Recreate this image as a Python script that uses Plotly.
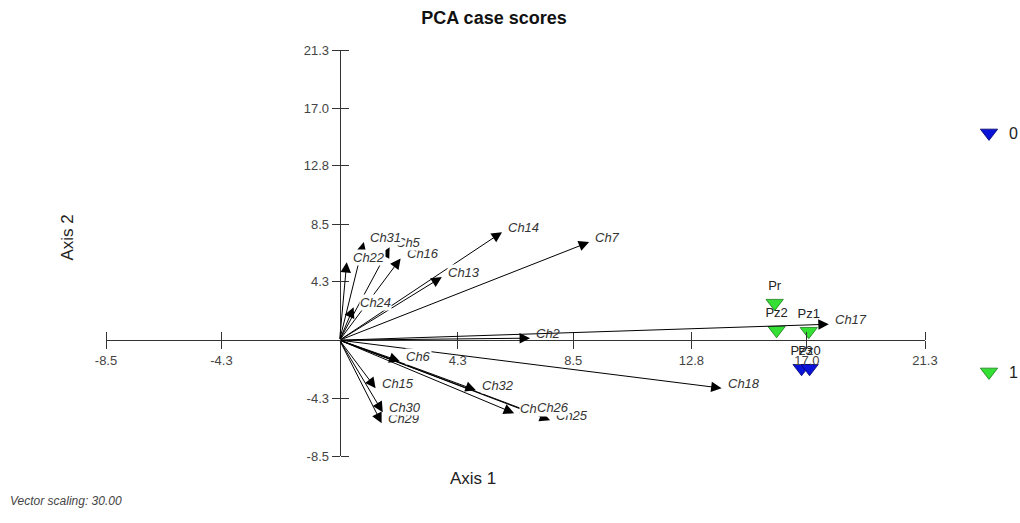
import plotly.graph_objects as go

# ---- data ----
tick_vals = [-8.5, -4.3, 4.3, 8.5, 12.8, 17.0, 21.3]
tick_text = ["-8.5", "-4.3", "4.3", "8.5", "12.8", "17.0", "21.3"]

vec_names = ["Ch24", "Ch22", "Ch16", "Ch13", "Ch14", "Ch7", "Ch2", "Ch17", "Ch6",
             "Ch18", "Ch15", "Ch32", "Ch29", "Ch30", "Ch27", "Ch25", "Ch26", "Ch5", "Ch31"]
vec_x = [0.51, 0.26, 2.22, 3.72, 5.91, 9.08, 6.93, 17.80, 2.19,
         13.90, 1.31, 4.96, 1.53, 1.57, 6.35, 7.66, 6.97, 1.82, 0.88]
vec_y = [2.42, 5.73, 6.00, 4.63, 7.93, 7.20, 0.15, 1.17, -1.54,
         -3.52, -3.52, -3.67, -6.09, -5.29, -5.36, -5.87, -5.29, 6.83, 7.20]

g0_names = ["Pz3", "Pz0"]
g0_x = [16.81, 17.10]
g0_y = [-2.06, -2.06]

g1_names = ["Pr", "Pz2", "Pz1"]
g1_x = [15.83, 15.90, 17.07]
g1_y = [2.72, 0.73, 0.66]

xr = [-8.5, 21.3]
yr = [-8.5, 21.3]
pos_x = (0 - yr[0]) / (yr[1] - yr[0])
pos_y = (0 - xr[0]) / (xr[1] - xr[0])

FONT = "Liberation Sans, Arial, sans-serif"
AX = "#333333"

W, H = 1020, 523
L, T = 106, 50
R = W - 925
B = H - 456
pw, ph = W - L - R, H - T - B


def px_to_paper(px, py):
    return (px - L) / pw, (H - B - py) / ph


fig = go.Figure()

fig.add_trace(go.Scatter(
    x=g0_x, y=g0_y, mode="markers+text", text=g0_names, textposition="top center",
    textfont=dict(family=FONT, size=13, color="#222"),
    marker=dict(symbol="triangle-down", size=15, color="#0a14d8",
                line=dict(color="#00006a", width=0.8)),
    name="0", legend="legend"))
fig.add_trace(go.Scatter(
    x=g1_x, y=g1_y, mode="markers+text", text=g1_names, textposition="top center",
    textfont=dict(family=FONT, size=13, color="#222"),
    marker=dict(symbol="triangle-down", size=15, color="#33e033",
                line=dict(color="#1a7a1a", width=0.8)),
    name="1", legend="legend2"))

# overlay axes for the opposite half of the cross ticks
fig.add_trace(go.Scatter(x=[0], y=[0], xaxis="x2", yaxis="y2", mode="markers",
                         marker=dict(opacity=0), showlegend=False, hoverinfo="skip"))

anns = []
for n, x, y in zip(vec_names, vec_x, vec_y):
    anns.append(dict(x=x, y=y, ax=0, ay=0, xref="x", yref="y", axref="x", ayref="y",
                     showarrow=True, arrowhead=2, arrowsize=2.1, arrowwidth=1,
                     arrowcolor="#000", text=""))
for n, x, y in zip(vec_names, vec_x, vec_y):
    anns.append(dict(x=x, y=y, xref="x", yref="y", showarrow=False,
                     text="<i>" + n + "</i>", xanchor="left", yanchor="middle",
                     xshift=5, yshift=5, borderpad=0,
                     bgcolor=None if n == "Ch2" else "white",
                     font=dict(family=FONT, size=13, color="#333")))

helpers = [
    dict(text="Axis 1", p=(473, 490), showarrow=False,
         font=dict(family=FONT, size=17, color="#222")),
    dict(text="Axis 2", p=(55, 238), showarrow=False, textangle=-90,
         font=dict(family=FONT, size=17, color="#222")),
    dict(text="<i>Vector scaling: 30.00</i>", p=(8, 510), showarrow=False, xanchor="left",
         font=dict(family=FONT, size=12, color="#444")),
]
for a in helpers:
    a["x"], a["y"] = px_to_paper(*a.pop("p"))
    a["xref"] = "paper"
    a["yref"] = "paper"
anns += helpers

axis_common = dict(showgrid=False, zeroline=False, tickvals=tick_vals, ticktext=tick_text,
                   tickfont=dict(family=FONT, size=13, color="#444"),
                   ticklen=8, tickcolor=AX, tickwidth=1, automargin=False)

lx0, ly0 = px_to_paper(973, 133)
lx1, ly1 = px_to_paper(973, 372)

fig.update_layout(
    width=W, height=H,
    margin=dict(l=L, r=R, t=T, b=B, autoexpand=False),
    paper_bgcolor="white", plot_bgcolor="white",
    title=dict(text="<b>PCA case scores</b>", x=494 / W, xanchor="center",
               y=1 - 18 / H, yanchor="middle",
               font=dict(family=FONT, size=18, color="#111")),
    xaxis=dict(range=xr, anchor="free", position=pos_x, showline=True, linecolor=AX,
               linewidth=1, ticks="outside", side="bottom", **axis_common),
    yaxis=dict(range=yr, anchor="free", position=pos_y, showline=True, linecolor=AX,
               linewidth=1, ticks="outside", side="left", **axis_common),
    xaxis2=dict(range=xr, overlaying="x", anchor="free", position=pos_x, side="top",
                showline=False, ticks="outside", showticklabels=False, **axis_common),
    yaxis2=dict(range=yr, overlaying="y", anchor="free", position=pos_y, side="right",
                showline=False, ticks="outside", showticklabels=False, **axis_common),
    legend=dict(x=lx0, y=ly0, xanchor="left", yanchor="middle", indentation=-4,
                font=dict(family=FONT, size=16, color="#222"), bgcolor="rgba(0,0,0,0)"),
    legend2=dict(x=lx1, y=ly1, xanchor="left", yanchor="middle", indentation=-4,
                 font=dict(family=FONT, size=16, color="#222"), bgcolor="rgba(0,0,0,0)"),
    annotations=anns,
    showlegend=True,
)

fig.write_html("out.html", config={"displayModeBar": False},
               post_script="document.body.style.margin='0px';document.body.style.overflow='hidden';")
